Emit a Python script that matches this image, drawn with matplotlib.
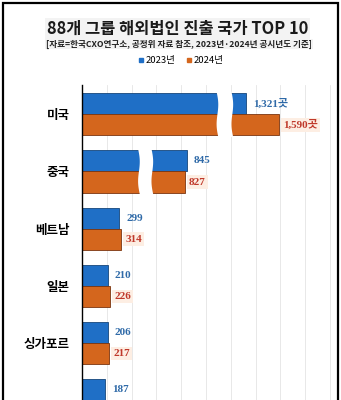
import numpy as np
import matplotlib.pyplot as plt
from matplotlib.patches import Rectangle, Polygon
from matplotlib.lines import Line2D

plt.rcParams['font.family'] = ['Noto Sans CJK KR', 'DejaVu Sans']

# 데이터
countries = ['미국', '중국', '베트남', '일본', '싱가포르', '']
val_2023 = [1321, 845, 299, 210, 206, 187]
val_2024 = [1590, 827, 314, 226, 217, np.nan]
years = ['2023년', '2024년']

c23, c24 = '#1f6fc6', '#d4661d'
e23, e24 = '#16467a', '#7a3510'
t23, t24 = '#2f6aa8', '#c0392b'
serif = ['Liberation Serif', 'Noto Sans CJK KR']

fig = plt.figure(figsize=(3.41, 4.0), dpi=100)
ax = fig.add_axes([82 / 341, 0, 254 / 341, 1 - 85 / 400])

h = 0.368
y = np.arange(len(countries))
ax.barh(y - h / 2, val_2023, height=h, color=c23, edgecolor=e23, linewidth=0.6, zorder=2)
ax.barh(y + h / 2, val_2024, height=h, color=c24, edgecolor=e24, linewidth=0.6, zorder=2)

# 값 라벨
for i in range(len(countries)):
    suffix = '곳' if i == 0 else ''
    v = val_2023[i]
    ax.annotate(f'{v:,}{suffix}', (v, i - h / 2), xytext=(5, 0), textcoords='offset points',
                va='center', ha='left', fontsize=8, fontweight='bold', color=t23,
                family=serif, zorder=4)
    v = val_2024[i]
    if not np.isnan(v):
        ax.annotate(f'{int(v):,}{suffix}', (v, i + h / 2), xytext=(3, 0), textcoords='offset points',
                    va='center', ha='left', fontsize=8, fontweight='bold', color=t24,
                    family=serif, zorder=4,
                    bbox=dict(boxstyle='square,pad=0.2', fc='#fdeee3', ec='none'))

# 물결 모양 생략 표시
breaks = {0: (1085, 1205), 1: (452, 560)}
for i, (x0, x1) in breaks.items():
    t = np.linspace(0, 1, 40)
    ys = i - h - 0.03 + t * (2 * h + 0.06)
    bulge = 10 * np.sin(2 * np.pi * t) + 14 * t
    left = np.column_stack([x0 + bulge, ys])
    right = np.column_stack([x1 + bulge[::-1], ys[::-1]])
    ax.add_patch(Polygon(np.vstack([left, right]), closed=True, fc='white', ec='none', zorder=3))

ax.set_xlim(0, 2048)
ax.set_ylim(4 + 52 / 58.4, -0.514)
ax.set_xticks(range(0, 2001, 200))
ax.set_xticklabels([])
ax.tick_params(axis='x', length=0)
ax.grid(axis='x', color='#e4e4e4', linewidth=0.6, zorder=0)
ax.set_yticks(y)
ax.set_yticklabels(countries, fontsize=9, fontweight='bold')
ax.tick_params(axis='y', length=0, pad=9)
for s in ['top', 'right', 'bottom']:
    ax.spines[s].set_visible(False)
ax.spines['left'].set_linewidth(1.0)
ax.spines['left'].set_zorder(5)

# 제목
fig.text(0.52, 1 - 29 / 400, '88개 그룹 해외법인 진출 국가 TOP 10', ha='center', va='center',
         fontsize=11.8, fontweight='heavy', color='#1a1a1a',
         bbox=dict(boxstyle='square,pad=0.1', fc='#f3f3f3', ec='none'))
fig.text(0.525, 1 - 44 / 400, '[자료=한국CXO연구소, 공정위 자료 참조, 2023년·2024년 공시년도 기준]',
         ha='center', va='center', fontsize=6.2, fontweight='heavy', color='#222222',
         bbox=dict(boxstyle='square,pad=0.1', fc='#f3f3f3', ec='none'))

handles = [Line2D([], [], marker='s', ls='none', color=c, markersize=3.2) for c in (c23, c24)]
fig.legend(handles, years, loc='center', bbox_to_anchor=(0.53, 1 - 61 / 400), ncol=2,
           frameon=False, fontsize=6.8, handlelength=0.6, handletextpad=0.2, columnspacing=1.2)

# 바깥 테두리
fig.add_artist(Rectangle((3 / 341, -0.1), 335 / 341, 1.1 - 3 / 400, transform=fig.transFigure,
                         fill=False, ec='black', lw=1.6))

fig.savefig('out.png', dpi=100, facecolor='white')
